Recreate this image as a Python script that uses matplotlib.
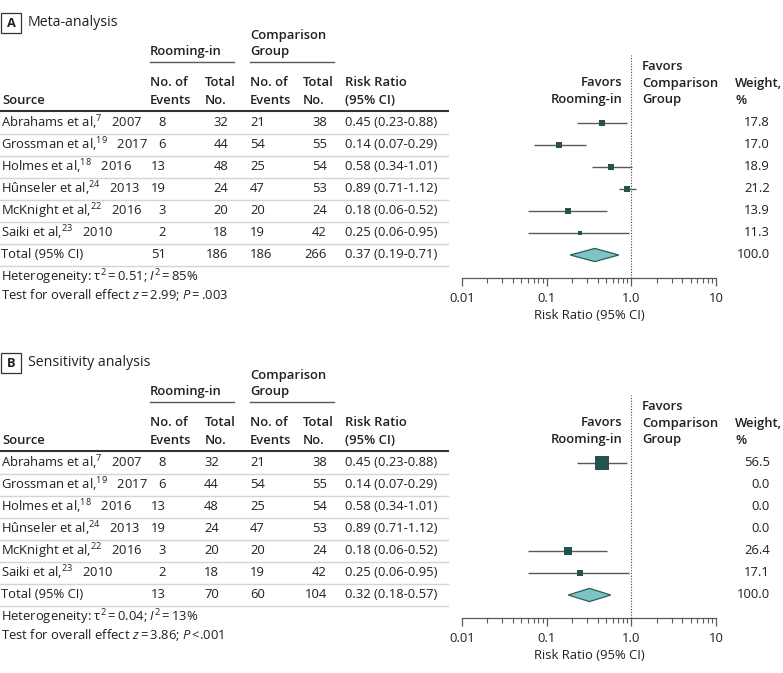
import matplotlib
matplotlib.use("Agg")
import matplotlib.pyplot as plt
import numpy as np
from matplotlib.ticker import FixedLocator, NullFormatter

plt.rcParams['font.family'] = ['Open Sans', 'DejaVu Sans']
plt.rcParams['mathtext.fontset'] = 'custom'
plt.rcParams['mathtext.rm'] = 'Open Sans'
plt.rcParams['mathtext.it'] = 'Open Sans:italic'
plt.rcParams['mathtext.bf'] = 'Open Sans:bold'

# ---------------- data ----------------
studies = ["Abrahams et al,", "Grossman et al,", "Holmes et al,", "Hûnseler et al,",
           "McKnight et al,", "Saiki et al,"]
refs = ["7", "19", "18", "24", "22", "23"]
years = ["2007", "2017", "2016", "2013", "2016", "2010"]
ev_room = [8, 6, 13, 19, 3, 2]
tot_room = [32, 44, 48, 24, 20, 18]
ev_comp = [21, 54, 25, 47, 20, 19]
tot_comp = [38, 55, 54, 53, 24, 42]
rr = [0.45, 0.14, 0.58, 0.89, 0.18, 0.25]
rr_lo = [0.23, 0.07, 0.34, 0.71, 0.06, 0.06]
rr_hi = [0.88, 0.29, 1.01, 1.12, 0.52, 0.95]
weights_a = [17.8, 17.0, 18.9, 21.2, 13.9, 11.3]
weights_b = [56.5, 0.0, 0.0, 0.0, 26.4, 17.1]

total_counts_a = [51, 186, 186, 266]
total_counts_b = [13, 70, 60, 104]
total_rr_a = [0.37, 0.19, 0.71]
total_rr_b = [0.32, 0.18, 0.57]
het_a = ["0.51", "85", "2.99", "=\u2009.003"]
het_b = ["0.04", "13", "3.86", "<.001"]

panel_letters = ["A", "B"]
panel_titles = ["Meta-analysis", "Sensitivity analysis"]
tick_vals = [0.01, 0.1, 1.0, 10]
tick_labels = ["0.01", "0.1", "1.0", "10"]

# ---------------- figure ----------------
W, H = 783, 673
fig = plt.figure(figsize=(W / 100, H / 100), dpi=100)
bg = fig.add_axes([0, 0, 1, 1])
bg.set_xlim(0, W)
bg.set_ylim(H, 0)
bg.axis('off')

TXT = '#231f20'
SQ = '#245250'
DIA_F = '#7cc5c4'
DIA_E = '#2d5b59'
LINE = '#5a5a5a'
FS = 9.4
HFS = 9.4
TS = '\u2009'


def t(x, y, s, ha='left', weight='normal', size=FS, **kw):
    bg.text(x, y, s, ha=ha, va='center', fontsize=size, color=TXT, fontweight=weight, **kw)


def panel(off, letter, title, weights, tot_counts, tot_rr, het, tot1_align):
    # title with box
    bg.add_patch(plt.Rectangle((1, 13 + off), 20, 20, fill=False, ec='#333333', lw=0.9))
    t(11, 23.5 + off, letter, ha='center', weight='bold', size=9.3)
    t(28, 22.5 + off, title, size=10.2)

    hw = 'semibold'
    # group headers
    t(150, 52 + off, "Rooming-in", weight=hw, size=HFS)
    t(250, 35 + off, "Comparison", weight=hw, size=HFS)
    t(250, 52 + off, "Group", weight=hw, size=HFS)
    bg.plot([150, 234], [62 + off, 62 + off], color=LINE, lw=1)
    bg.plot([250, 334], [62 + off, 62 + off], color=LINE, lw=1)

    # column headers
    for x, a, b in [(150, "No. of", "Events"), (205, "Total", "No."),
                    (250, "No. of", "Events"), (303, "Total", "No."),
                    (345, "Risk Ratio", "(95% CI)")]:
        t(x, 83 + off, a, weight=hw, size=HFS)
        t(x, 100 + off, b, weight=hw, size=HFS)
    t(2, 100 + off, "Source", weight=hw, size=HFS)
    t(622, 83 + off, "Favors", ha='right', weight=hw, size=HFS)
    t(622, 100 + off, "Rooming-in", ha='right', weight=hw, size=HFS)
    t(642, 66 + off, "Favors", weight=hw, size=HFS)
    t(642, 83 + off, "Comparison", weight=hw, size=HFS)
    t(642, 100 + off, "Group", weight=hw, size=HFS)
    t(735, 83 + off, "Weight,", weight=hw, size=HFS)
    t(735, 100 + off, "%", weight=hw, size=HFS)
    bg.plot([0, 448], [111 + off, 111 + off], color='#333333', lw=1.5)

    row0 = 123 + off
    rh = 22
    n = len(studies)
    for i in range(n):
        y = row0 + i * rh
        t(1, y, f"{studies[i]}$^{{{refs[i]}}}$   {years[i]}")
        t(166, y, str(ev_room[i]), ha='right')
        if tot1_align == 'right':
            t(228, y, str(tot_room[i]), ha='right')
        else:
            t(204, y, str(tot_room[i]))
        t(250, y, str(ev_comp[i]))
        t(327, y, str(tot_comp[i]), ha='right')
        t(345, y, f"{rr[i]:.2f} ({rr_lo[i]:.2f}-{rr_hi[i]:.2f})")
        t(770, y, f"{weights[i]:.1f}", ha='right')
    yT = row0 + n * rh
    t(1, yT, "Total (95% CI)")
    t(166, yT, str(tot_counts[0]), ha='right')
    if tot1_align == 'right':
        t(228, yT, str(tot_counts[1]), ha='right')
    else:
        t(204, yT, str(tot_counts[1]))
    t(250, yT, str(tot_counts[2]))
    t(327, yT, str(tot_counts[3]), ha='right')
    t(345, yT, f"{tot_rr[0]:.2f} ({tot_rr[1]:.2f}-{tot_rr[2]:.2f})")
    t(770, yT, "100.0", ha='right')
    for i in range(n + 1):
        ys = row0 + i * rh + 11
        bg.plot([0, 448], [ys, ys], color='#d4d4d4', lw=1)

    t(1, yT + 22, f"Heterogeneity: τ$^{{2}}${TS}={TS}{het[0]}; $I^{{2}}${TS}={TS}{het[1]}%")
    t(1, yT + 40, f"Test for overall effect $z${TS}={TS}{het[2]}; $P${TS}{het[3]}")

    # forest axes
    top_px, axis_px = 55 + off, 278 + off
    x0, x1 = 462, 716
    ax = fig.add_axes([x0 / W, 1 - axis_px / H, (x1 - x0) / W, (axis_px - top_px) / H])
    ax.set_xscale('log')
    ax.set_xlim(0.01, 10)
    ax.set_ylim((axis_px - row0) / rh, (top_px - row0) / rh)
    ax.patch.set_alpha(0)
    for s in ['top', 'left', 'right']:
        ax.spines[s].set_visible(False)
    ax.spines['bottom'].set_color(LINE)
    ax.spines['bottom'].set_linewidth(0.9)
    ax.set_yticks([])
    ax.xaxis.set_major_locator(FixedLocator(tick_vals))
    ax.set_xticklabels(tick_labels)
    minors = [m * 10.0 ** e for e in range(-2, 1) for m in range(2, 10)]
    ax.xaxis.set_minor_locator(FixedLocator(minors))
    ax.xaxis.set_minor_formatter(NullFormatter())
    ax.tick_params(axis='x', which='major', length=6, width=0.9, color=LINE,
                   labelsize=FS, labelcolor=TXT, pad=4)
    ax.tick_params(axis='x', which='minor', length=3.5, width=0.8, color=LINE)
    ax.set_xlabel("Risk Ratio (95% CI)", fontsize=FS, color=TXT, labelpad=3)
    ax.axvline(1.0, color='#444444', ls=(0, (1, 1.5)), lw=0.8)

    for i in range(n):
        if weights[i] <= 0:
            continue
        ax.plot([rr_lo[i], rr_hi[i]], [i, i], color=LINE, lw=1.0, solid_capstyle='butt')
        side_px = 0.95 * weights[i] ** 0.65
        ax.plot([rr[i]], [i], marker='s', ms=side_px * 0.72, color=SQ, mew=0)
    hh = 0.3
    ax.fill([tot_rr[1], tot_rr[0], tot_rr[2], tot_rr[0]],
            [n, n - hh, n, n + hh], facecolor=DIA_F, edgecolor=DIA_E, lw=0.9)


panel(0, panel_letters[0], panel_titles[0], weights_a, total_counts_a, total_rr_a, het_a, 'right')
panel(340, panel_letters[1], panel_titles[1], weights_b, total_counts_b, total_rr_b, het_b, 'left')

fig.savefig("out.png", dpi=100)
